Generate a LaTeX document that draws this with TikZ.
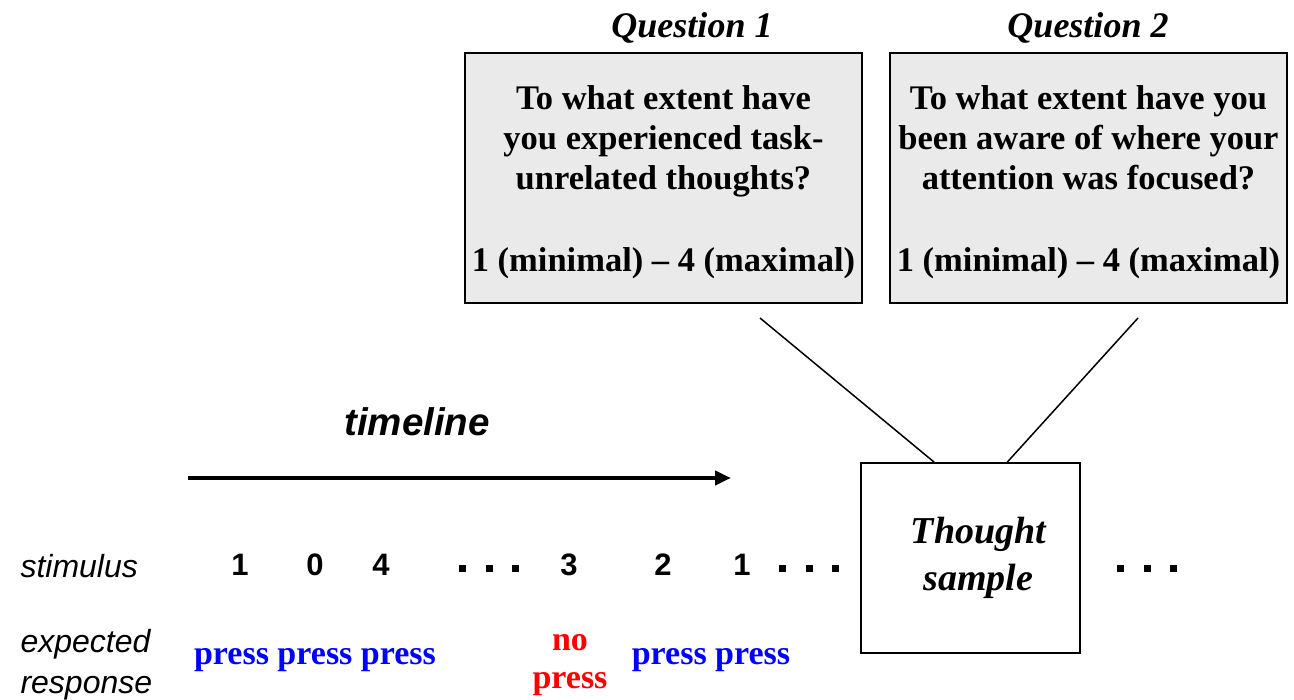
\documentclass[tikz,border=0pt]{standalone}
\usepackage{fontspec}
\setmainfont{Liberation Serif}
\newfontfamily\arialf{Liberation Sans}
\usetikzlibrary{arrows.meta}
\definecolor{boxgray}{HTML}{EAEAEA}
\definecolor{pressblue}{RGB}{0,0,255}
\definecolor{nored}{RGB}{255,0,0}
\begin{document}
\begin{tikzpicture}[x=1pt,y=-1pt,
  qbox/.style={draw, line width=2pt, fill=boxgray, minimum width=397pt, minimum height=250pt, inner sep=0pt},
  qtext/.style={align=center, inner sep=0pt, font=\fontsize{34.5}{40}\selectfont\bfseries},
  qlabel/.style={anchor=base, font=\fontsize{36}{40}\selectfont\bfseries\itshape},
  tsbox/.style={draw, line width=1.6pt, minimum width=219pt, minimum height=190pt, inner sep=0pt},
  tstext/.style={align=center, inner sep=0pt, font=\fontsize{38}{47}\selectfont\bfseries\itshape},
  stimnum/.style={anchor=base, font=\arialf\fontsize{31}{36}\selectfont\bfseries},
  rowlabel/.style={anchor=base west, font=\arialf\fontsize{32}{40}\selectfont\itshape},
  presslbl/.style={anchor=base, text=pressblue, font=\fontsize{34}{40}\selectfont\bfseries},
  nopress/.style={anchor=base, text=nored, font=\fontsize{34}{40}\selectfont\bfseries},
  sqdot/.style={fill=black, minimum size=7pt, inner sep=0pt},
  conn/.style={line width=1.5pt}
]
\useasboundingbox (0,0) rectangle (1294,700);

% question boxes
\node[qlabel] (ql1) at (692,38) {Question 1};
\node[qlabel] (ql2) at (1088,38) {Question 2};
\node[qbox] (q1) at (663.5,178) {};
\node[qbox] (q2) at (1088.5,178) {};
\node[qtext] (q1t) at ([yshift=-4pt]q1.center) {To what extent have\\you experienced task-\\unrelated thoughts?\\[42pt]1 (minimal) -- 4 (maximal)};
\node[qtext] (q2t) at ([yshift=-4pt]q2.center) {To what extent have you\\been aware of where your\\attention was focused?\\[42pt]1 (minimal) -- 4 (maximal)};

% thought sample box
\node[tsbox] (ts) at (970.5,558) {};
\node[tstext] (tst) at ([xshift=8pt]ts.center) {Thought\\sample};

% connectors
\coordinate (q1foot) at (760,318);
\coordinate (q2foot) at (1138,318);
\draw[conn] (q1foot) -- ([xshift=74pt]ts.north west);
\draw[conn] (q2foot) -- ([xshift=147pt]ts.north west);

% timeline
\node[anchor=base, font=\arialf\fontsize{38.5}{40}\selectfont\bfseries\itshape] (tl) at (417,436) {timeline};
\coordinate (tl0) at (188,478);
\coordinate (tl1) at (731,478);
\draw[line width=4pt, -{Triangle[length=16pt,width=14pt]}] (tl0) -- (tl1);

% row labels
\node[rowlabel] (stim) at (17,577) {stimulus};
\node[rowlabel] (exp1) at (17,652) {expected};
\node[rowlabel] (exp2) at (17,693) {response};

% stimulus numbers
\node[stimnum] (n1) at (240,576) {1};
\node[stimnum] (n2) at (315,576) {0};
\node[stimnum] (n3) at (381,576) {4};
\node[stimnum] (n4) at (569,576) {3};
\node[stimnum] (n5) at (663,576) {2};
\node[stimnum] (n6) at (742,576) {1};

% dots
\node[sqdot] (d1) at (462,568) {};
\node[sqdot] (d2) at (489,568) {};
\node[sqdot] (d3) at (515,568) {};
\node[sqdot] (d4) at (782,568) {};
\node[sqdot] (d5) at (809,568) {};
\node[sqdot] (d6) at (835,568) {};
\node[sqdot] (d7) at (1120,568) {};
\node[sqdot] (d8) at (1147,568) {};
\node[sqdot] (d9) at (1173,568) {};

% responses
\node[presslbl] (p1) at (315,664) {press press press};
\node[nopress] (np1) at (570,650) {no};
\node[nopress] (np2) at (570,688) {press};
\node[presslbl] (p2) at (711,664) {press press};
\end{tikzpicture}
\end{document}
